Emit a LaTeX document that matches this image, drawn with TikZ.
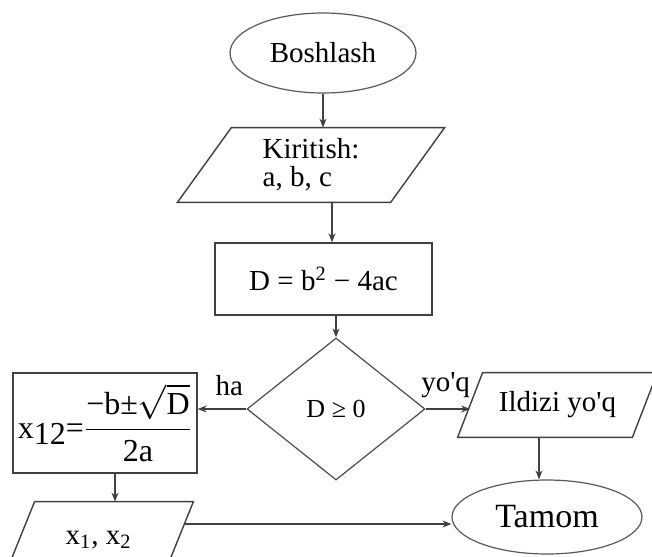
\documentclass[tikz,border=0pt]{standalone}
\usepackage{fontspec}
\setmainfont{Liberation Serif}
\usepackage{amsmath}
\usetikzlibrary{shapes.geometric,arrows.meta}

\begin{document}
\begin{tikzpicture}[x=0.5pt,y=-0.5pt,
    line/.style={draw=black!75, line width=0.6pt},
    arr/.style={line, -{Stealth[length=4.5pt,width=3.5pt]}},
    term/.style={ellipse, draw=black!65, line width=0.6pt, inner sep=0pt},
    proc/.style={rectangle, draw=black!75, line width=0.7pt, inner sep=0pt},
    iotext/.style={rectangle, inner sep=0pt},
    ioline/.style={draw=black!75, line width=0.7pt},
    cond/.style={diamond, draw=black!70, line width=0.6pt, inner sep=0pt},
    font=\fontsize{14.5}{14}\selectfont]
    \clip (0,0) rectangle (652,556);
    \fill[white] (0,0) rectangle (652,556);

    % Start
    \node[term, minimum width=93pt, minimum height=40pt] (start) at (323,53) {Boshlash};

    % Input
    \node[iotext, minimum width=106.25pt, minimum height=37pt, align=left] (inp) at (311,165) {Kiritish:\\a, b, c};
    \draw[ioline] ([xshift=-13.5pt]inp.south west) -- ([xshift=-13.5pt]inp.south east)
        -- ([xshift=13.5pt]inp.north east) -- ([xshift=13.5pt]inp.north west) -- cycle;

    % Discriminant
    \node[proc, minimum width=108.5pt, minimum height=36pt] (calc) at (323.5,279) {D = b\textsuperscript{2} − 4ac};

    % Condition
    \node[cond, minimum width=89pt, minimum height=71pt, font=\fontsize{13}{13}\selectfont] (dec) at (336,409) {D ≥ 0};

    % Roots
    \node[proc, minimum width=92pt, minimum height=50pt, font=\fontsize{16}{16}\selectfont] (root) at (105,423) {x\raisebox{-3pt}{12}=$\dfrac{\mbox{−b±}\sqrt{\mbox{D}}}{\mbox{2a}}$};

    % Output
    \node[iotext, minimum width=79pt, minimum height=38pt] (out) at (98.5,540) {x\textsubscript{1}, x\textsubscript{2}};
    \draw[ioline] ([xshift=-7.75pt]out.south west) -- ([xshift=-7.75pt]out.south east)
        -- ([xshift=7.75pt]out.north east) -- ([xshift=7.75pt]out.north west) -- cycle;

    % No roots
    \node[iotext, minimum width=87pt, minimum height=32pt] (none) at (557.5,405) {Ildizi yo\textquotesingle q};
    \draw[ioline] ([xshift=-6.25pt]none.south west) -- ([xshift=-6.25pt]none.south east)
        -- ([xshift=6.25pt]none.north east) -- ([xshift=6.25pt]none.north west) -- cycle;

    % End
    \node[term, minimum width=95pt, minimum height=37pt, font=\fontsize{17}{17}\selectfont] (stop) at (547,517) {Tamom};

    % Arrows
    \draw[arr] (start.south) -- (start.south |- inp.north);
    \draw[arr] ([xshift=4.25pt]calc.north |- inp.south) -- ([xshift=4.25pt]calc.north);
    \draw[arr] (dec.north |- calc.south) -- (dec.north);
    \draw[arr] (dec.west) -- node[pos=0.35, above=3pt] {ha} (dec.west -| root.east);
    \draw[arr] (dec.east) -- node[pos=0.45, above=2pt] {yo\textquotesingle q} (dec.east -| none.west);
    \draw[arr] ([xshift=5pt]root.south) -- ([xshift=5pt]root.south |- out.north);
    \draw[arr] ([shift={(3.3pt,8pt)}]out.east) -- ([yshift=8pt]out.east -| stop.west);
    \draw[arr] ([xshift=-4pt]stop.north |- none.south) -- ([xshift=-4pt]stop.north);
\end{tikzpicture}
\end{document}
